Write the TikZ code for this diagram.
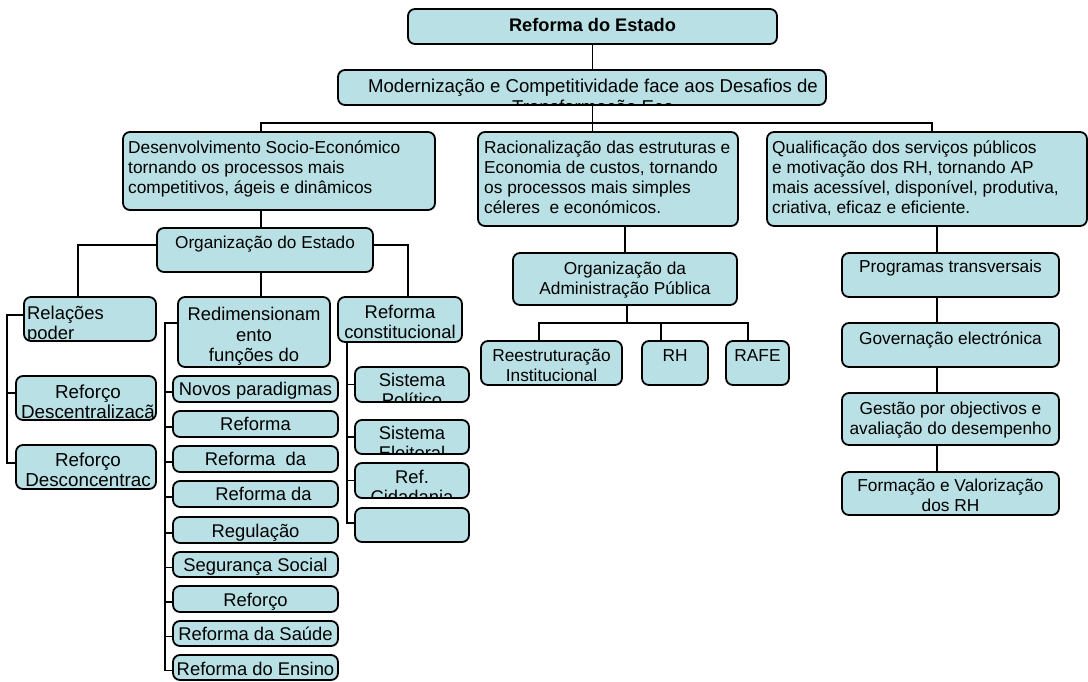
\documentclass[tikz,border=0pt]{standalone}
\usepackage{fontspec}
\setmainfont{Liberation Sans}
\usetikzlibrary{backgrounds,calc}
\definecolor{boxfill}{RGB}{185,224,228}
\tikzset{
  box/.style={draw=black, line width=1.8pt, rounded corners=7pt, fill=boxfill,
    inner sep=0pt, outer sep=0pt, anchor=north west},
  conn/.style={draw=black, line width=1.5pt},
}
% box: name, x1, y1, x2, y2 (pixel coordinates, y down)
\newcommand\bx[5]{\node[box, minimum width={#4pt-#2pt}, minimum height={#5pt-#3pt}] (#1) at (#2,#3) {};}
% centred text: name, xshift, baseline offset, size, spacing, lines
\newcommand\ctxt[6]{%
  \begin{scope}
  \clip[rounded corners=6pt] ([shift={(1,1)}]#1.north west) rectangle ([shift={(-1,-1)}]#1.south east);
  \node[anchor=base, inner sep=0pt, font=\fontsize{#4}{#5}\selectfont] (#1-t) at ([shift={(#2,#3)}]#1.north) {\begin{tabular}[t]{@{}c@{}}#6\end{tabular}};
  \end{scope}}
% left text: name, xshift, baseline offset, size, spacing, lines
\newcommand\ltxt[6]{%
  \begin{scope}
  \clip[rounded corners=6pt] ([shift={(1,1)}]#1.north west) rectangle ([shift={(-1,-1)}]#1.south east);
  \node[anchor=base west, inner sep=0pt, font=\fontsize{#4}{#5}\selectfont] (#1-t) at ([shift={(#2,#3)}]#1.north west) {\begin{tabular}[t]{@{}l@{}}#6\end{tabular}};
  \end{scope}}
\begin{document}
\begin{tikzpicture}[x=1pt,y=-1pt]
\useasboundingbox (0,0) rectangle (1088,681);

% ---------- boxes ----------
\bx{root}{408}{9}{777}{44}
\bx{mod}{338}{70}{826}{105}
\bx{desen}{123}{132}{435}{210}
\bx{racio}{478}{132}{738}{226}
\bx{qual}{767}{132}{1087}{226}
\bx{orgE}{157}{228}{373}{272}
\bx{orgAP}{513}{253}{737}{305}
\bx{prog}{842}{253}{1059}{297}
\bx{gov}{842}{323}{1059}{367}
\bx{gest}{842}{393}{1059}{445}
\bx{form}{842}{472}{1059}{515}
\bx{reestr}{481}{341}{622}{385}
\bx{rh}{642}{341}{708}{385}
\bx{rafe}{726}{341}{789}{385}
\bx{relac}{24}{297}{156}{341}
\bx{desc}{16}{376}{156}{420}
\bx{descon}{16}{445}{156}{489}
\bx{redim}{178}{297}{330}{367}
\bx{rconst}{338}{297}{462}{342}
\bx{novos}{173}{376}{338}{402}
\bx{refA}{173}{411}{338}{437}
\bx{refB}{173}{446}{338}{472}
\bx{refC}{173}{481}{338}{507}
\bx{regul}{173}{517}{338}{543}
\bx{segur}{173}{552}{338}{577}
\bx{reforco}{173}{586}{338}{612}
\bx{saude}{173}{621}{338}{646}
\bx{ensino}{173}{655}{338}{680}
\bx{sispol}{355}{367}{469}{402}
\bx{siselei}{355}{420}{469}{454}
\bx{refcid}{355}{463}{469}{498}
\bx{empty}{355}{508}{469}{542}

% ---------- texts ----------
\begin{scope}
\node[anchor=base, inner sep=0pt, font=\bfseries\fontsize{18.2}{20}\selectfont] (root-t) at ([shift={(0,22.7)}]root.north) {Reforma do Estado};
\end{scope}
\ctxt{mod}{11}{22.3}{18.6}{21}{Modernização e Competitividade face aos Desafios de\\Transformação Eco}
\ltxt{desen}{5}{21.3}{17.3}{20}{Desenvolvimento Socio-Económico\\tornando os processos mais\\competitivos, ágeis e dinâmicos}
\ltxt{racio}{6}{21.3}{17.3}{20}{Racionalização das estruturas e\\Economia de custos, tornando\\os processos mais simples\\céleres\ \ e económicos.}
\ltxt{qual}{5}{21.3}{17.3}{20}{Qualificação dos serviços públicos\\e motivação dos RH, tornando AP\\mais acessível, disponível, produtiva,\\criativa, eficaz e eficiente.}
\ctxt{orgE}{0}{20.3}{17.2}{20}{Organização do Estado}
\ctxt{orgAP}{0}{21.7}{17.3}{20}{Organização da\\Administração Pública}
\ctxt{prog}{0}{19.4}{17.3}{20}{Programas transversais}
\ctxt{gov}{0}{21}{17.3}{20}{Governação electrónica}
\ctxt{gest}{0}{21.3}{17.3}{20}{Gestão por objectivos e\\avaliação do desempenho}
\ctxt{form}{0}{19.7}{17.3}{20}{Formação e Valorização\\dos RH}
\ctxt{reestr}{0}{20.7}{17.3}{20}{Reestruturação\\Institucional}
\ctxt{rh}{0}{20.7}{17.3}{20}{RH}
\ctxt{rafe}{0}{20.7}{17.3}{20}{RAFE}
\ltxt{relac}{3}{22.3}{18.4}{20}{Relações\\poder}
\ctxt{desc}{2}{22.3}{18.8}{20}{Reforço\\Descentralizacã}
\ctxt{descon}{2}{21.7}{18.8}{20}{Reforço\\Desconcentrac}
\ctxt{redim}{0}{23.7}{18.4}{20.5}{Redimensionam\\ento\\funções do}
\ctxt{rconst}{0}{21.3}{18.4}{20}{Reforma\\constitucional}
\ctxt{novos}{0}{19}{18.4}{20}{Novos paradigmas}
\ctxt{refA}{0}{19.7}{18.4}{20}{Reforma}
\ctxt{refB}{0}{19.7}{18.4}{20}{Reforma\ \ da}
\ctxt{refC}{8}{19.7}{18.4}{20}{Reforma da}
\ctxt{regul}{0}{20.3}{18.4}{20}{Regulação}
\ctxt{segur}{0}{19.7}{18.4}{20}{Segurança Social}
\ctxt{reforco}{0}{20}{18.4}{20}{Reforço}
\ctxt{saude}{0}{19}{18.4}{20}{Reforma da Saúde}
\ctxt{ensino}{0}{20}{18.4}{20}{Reforma do Ensino}
\ctxt{sispol}{0}{19.7}{18.4}{20}{Sistema\\Político}
\ctxt{siselei}{0}{19.3}{18.4}{20}{Sistema\\Eleitoral}
\ctxt{refcid}{0}{20.3}{18.4}{20}{Ref.\\Cidadania}

% ---------- connectors ----------
\coordinate (busL) at (261,123);
\coordinate (busR) at (932,123);
\coordinate (apbus) at (627,323);
\coordinate (lx) at (7,0);
\coordinate (mx) at (165,0);
\coordinate (rx) at (347,0);
\begin{scope}[on background layer]
\fill[white] (0,0) rectangle (1088,681);
\draw[conn] (root.south) -- (root.south |- mod.north);
\draw[conn] (root.south |- mod.south) -- (root.south |- busL);
\draw[conn] (desen.north -| busL) -- (busL) -- (busR) -- (qual.north -| busR);
\draw[conn] (root.south |- busL) -- (root.south |- racio.north);
% left branch
\draw[conn] (desen.south -| busL) -- (orgE.north -| busL);
\draw[conn] ([yshift=5pt]orgE.west) -| ([xshift=-12pt]relac.north);
\draw[conn] ([yshift=5pt]orgE.east) -| ([xshift=8pt]rconst.north);
\draw[conn] (orgE.south -| busL) -- (redim.north -| busL);
\draw[conn] ([yshift=4pt]relac.west) -| ($(descon.west -| lx)+(0,-4)$) -- ([yshift=4pt]descon.west);
\draw[conn] ([yshift=5pt]desc.west) -- ($(desc.west -| lx)+(0,-5)$);
\draw[conn] ([yshift=9pt]redim.west) -| ($(ensino.west -| mx)+(0,3)$) -- ($(ensino.west)+(0,3)$);
\foreach \n in {novos,refA,refB,refC,regul,segur,reforco,saude}
  \draw[conn] ($(\n.west)+(0,3)$) -- ($(\n.west -| mx)+(0,3)$);
\draw[conn] (rconst.south -| rx) -| ($(empty.west -| rx)+(0,-2)$) -- ($(empty.west)+(0,-2)$);
\foreach \n in {sispol,siselei,refcid}
  \draw[conn] (\n.west) -- (\n.west -| rx);
% middle branch
\draw[conn] (racio.south -| orgAP.north) -- (orgAP.north);
\draw[conn] (orgAP.south -| apbus) -- (apbus);
\draw[conn] ([xshift=-12.5pt]reestr.north) -- ([xshift=-12.5pt]reestr.north |- apbus) -- ([xshift=-9.5pt]rafe.north |- apbus) -- ([xshift=-9.5pt]rafe.north);
\draw[conn] ([xshift=-14pt]rh.north |- apbus) -- ([xshift=-14pt]rh.north);
% right branch
\draw[conn] ([xshift=-13.5pt]prog.north |- qual.south) -- ([xshift=-13.5pt]prog.north);
\draw[conn] ([xshift=-13.5pt]prog.south) -- ([xshift=-13.5pt]gov.north);
\draw[conn] ([xshift=-13.5pt]gov.south) -- ([xshift=-13.5pt]gest.north);
\draw[conn] ([xshift=-13.5pt]gest.south) -- ([xshift=-13.5pt]form.north);
\end{scope}
\end{tikzpicture}
\end{document}
